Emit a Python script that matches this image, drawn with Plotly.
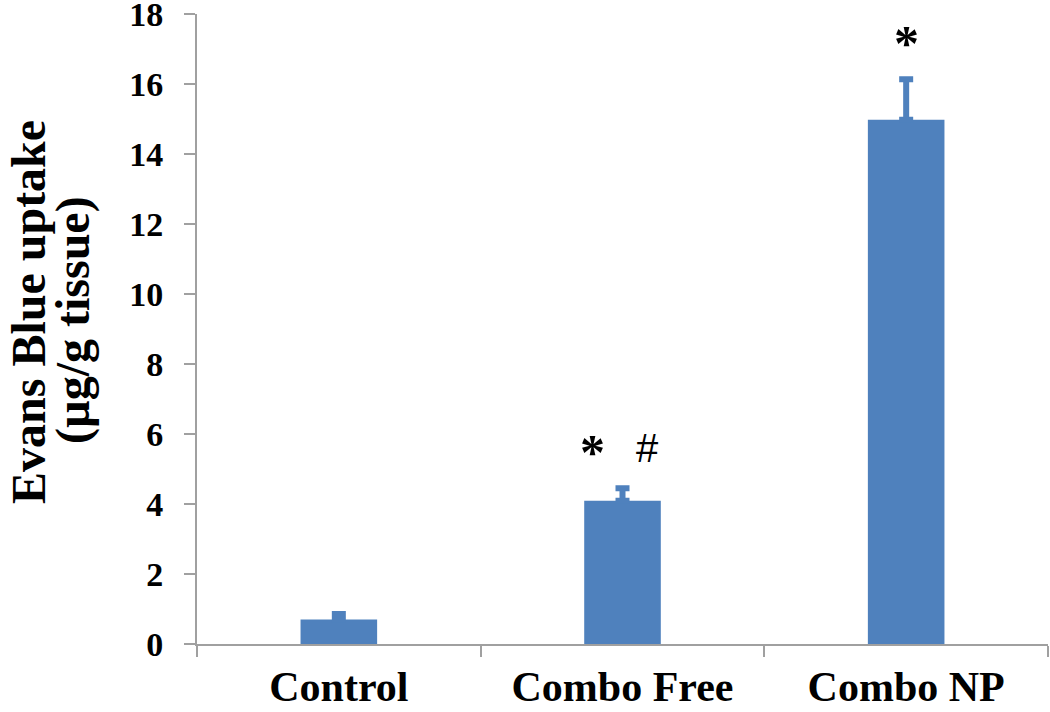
import plotly.graph_objects as go

# ---- data ----
categories = ["Control", "Combo Free", "Combo NP"]
means = [0.70, 4.09, 14.98]
errors = [0.16, 0.36, 1.16]
y_tick_values = [0, 2, 4, 6, 8, 10, 12, 14, 16, 18]
y_title_line1 = "Evans Blue uptake"
y_title_line2 = "(µg/g tissue)"
# significance marks: (category index, symbol, horizontal shift in px)
sig_marks = [(1, "*", -30), (1, "#", 25), (2, "*", 0)]

BAR = "#4F81BD"
AXIS = "#A0A0A0"
SERIF = "Liberation Serif, Times New Roman, serif"

fig = go.Figure()
fig.add_trace(go.Bar(
    x=categories, y=means, width=0.27,
    marker=dict(color=BAR, line=dict(width=0)),
    error_y=dict(type="data", array=errors, arrayminus=[0]*len(errors),
                 symmetric=False, color=BAR, thickness=6, width=7),
    showlegend=False,
))

annotations = []
for idx, sym, shift in sig_marks:
    top = means[idx] + errors[idx]
    if sym == "*":
        font = dict(family=SERIF, size=50, color="black", weight="bold")
        yshift = -2
    else:
        font = dict(family="Liberation Sans, Arial, sans-serif", size=40, color="black")
        yshift = 2
    annotations.append(dict(
        x=categories[idx], y=top + 1.1, xref="x", yref="y",
        text=sym, showarrow=False, xanchor="center", yanchor="middle",
        xshift=shift, yshift=yshift, font=font,
    ))

L, R, T, B = 197, 2, 14, 68
W, H = 1050, 712
pw = W - L - R
ph = H - T - B
for px_center, py_center, txt in [(28.0, 312, y_title_line1), (73.0, 320, y_title_line2)]:
    annotations.append(dict(
        x=(px_center - L) / pw, y=(H - B - py_center) / ph,
        xref="paper", yref="paper", text=txt, textangle=-90,
        showarrow=False, xanchor="center", yanchor="middle",
        font=dict(family=SERIF, size=48, color="black", weight="bold"),
    ))

fig.update_layout(
    width=W, height=H,
    margin=dict(l=L, r=R, t=T, b=B, pad=0, autoexpand=False),
    paper_bgcolor="white", plot_bgcolor="white",
    annotations=annotations,
)
fig.update_xaxes(
    type="category", range=[-0.5, 2.5], automargin=False,
    showline=True, linecolor=AXIS, linewidth=2,
    ticks="outside", tickson="boundaries", ticklen=11, tickwidth=2, tickcolor=AXIS,
    ticklabelstandoff=5, ticklabeloverflow="allow",
    showgrid=False, zeroline=False,
    tickfont=dict(family=SERIF, size=42, color="black", weight="bold"),
)
fig.update_yaxes(
    range=[0, 18.001], tickvals=y_tick_values, automargin=False,
    showline=True, linecolor=AXIS, linewidth=2,
    ticks="outside", ticklen=11, tickwidth=2, tickcolor=AXIS,
    ticklabelstandoff=14, ticklabeloverflow="allow",
    showgrid=False, zeroline=False,
    tickfont=dict(family=SERIF, size=34, color="black", weight="bold"),
)

fig.write_html("out.html", config={"displayModeBar": False},
               post_script="document.body.style.margin='0px';")
